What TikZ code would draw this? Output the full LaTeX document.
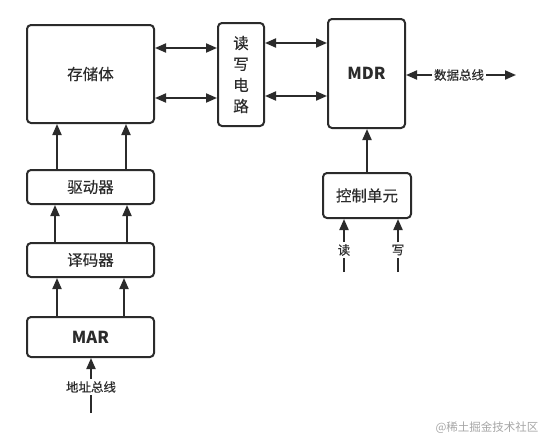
\documentclass[tikz,border=0pt]{standalone}
\usepackage{fontspec}
\setmainfont{Noto Sans CJK SC}
\newfontfamily\medcjk{Noto Sans CJK SC}[FakeBold=0.35]
\usetikzlibrary{arrows.meta}
\definecolor{ink}{HTML}{2B2B2B}
\begin{document}
\begin{tikzpicture}[x=1pt,y=-1pt,
  box/.style={draw=ink,line width=2pt,rounded corners=4pt,text=ink,inner sep=0pt,font=\medcjk\fontsize{15.5}{17}\selectfont},
  lbl/.style={text=ink,inner sep=2pt,font=\medcjk\fontsize{12.5}{14}\selectfont},
  conn/.style={draw=ink,line width=2pt},
  arr/.style={conn,-{Triangle[length=11pt,width=9pt]}},
  darr/.style={conn,{Triangle[length=11pt,width=9pt]}-{Triangle[length=11pt,width=9pt]}}]
\useasboundingbox (0,0) rectangle (540,439);
\node[box,minimum width=127pt,minimum height=98pt] (store) at (90.5,74) {存储体};
\node[box,minimum width=46pt,minimum height=103pt,align=center,font=\medcjk\fontsize{15.5}{21}\selectfont] (rw) at (241,74.5) {读\\写\\电\\路};
\node[box,minimum width=77pt,minimum height=109pt,font=\fontsize{16.5}{18}\selectfont\bfseries] (mdr) at (366.5,73.5) {MDR};
\node[box,minimum width=88pt,minimum height=45pt] (ctrl) at (367,195.5) {控制单元};
\node[box,minimum width=127pt,minimum height=34pt] (drv) at (90.5,187) {驱动器};
\node[box,minimum width=127pt,minimum height=34pt] (dec) at (90.5,260) {译码器};
\node[box,minimum width=127pt,minimum height=40pt,font=\fontsize{16.5}{18}\selectfont\bfseries] (mar) at (90.5,337) {MAR};
% store <-> rw
\draw[darr] (store.east|-0,48) -- (rw.west|-0,48);
\draw[darr] (store.east|-0,98) -- (rw.west|-0,98);
% rw <-> mdr
\draw[darr] (rw.east|-0,43) -- (mdr.west|-0,43);
\draw[darr] (rw.east|-0,96) -- (mdr.west|-0,96);
% data bus
\node[lbl] (bus) at (459,75) {数据总线};
\coordinate (busend) at (516,75);
\draw[arr] (bus.west) -- (mdr.east|-bus);
\draw[arr] (bus.east) -- (busend);
% ctrl -> mdr
\draw[arr] (ctrl.north) -- (mdr.south-|ctrl.north);
% read / write
\node[lbl] (rd) at (344,250) {读};
\coordinate (rdend) at (344,272);
\draw[conn] (rdend) -- (rd.south);
\draw[arr] (rd.north) -- (ctrl.south-|rd);
\node[lbl] (wr) at (398,250) {写};
\coordinate (wrend) at (398,272);
\draw[conn] (wrend) -- (wr.south);
\draw[arr] (wr.north) -- (ctrl.south-|wr);
% left column
\draw[arr] (drv.north-|57,0) -- (store.south-|57,0);
\draw[arr] (drv.north-|126,0) -- (store.south-|126,0);
\draw[arr] (dec.north-|55,0) -- (drv.south-|55,0);
\draw[arr] (dec.north-|127,0) -- (drv.south-|127,0);
\draw[arr] (mar.north-|57,0) -- (dec.south-|57,0);
\draw[arr] (mar.north-|124,0) -- (dec.south-|124,0);
% address bus
\node[lbl] (addr) at (91,387) {地址总线};
\coordinate (addrend) at (91,413);
\draw[conn] (addrend) -- (addr.south);
\draw[arr] (addr.north) -- (mar.south-|addr);
% watermark
\node[text=black!35,inner sep=0pt,font=\fontsize{11.5}{13}\selectfont] (wm) at (487,428) {@稀土掘金技术社区};
\end{tikzpicture}
\end{document}
